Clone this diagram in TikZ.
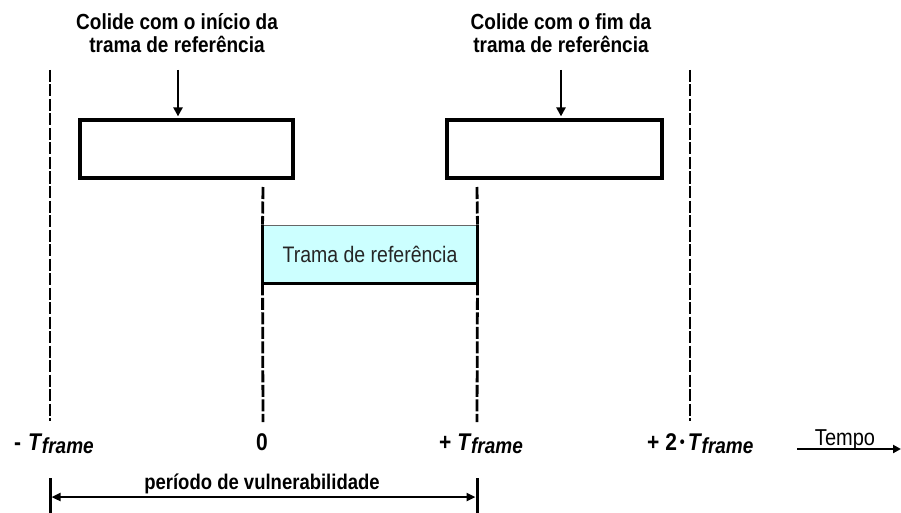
\documentclass[tikz,border=0pt]{standalone}
\usepackage{fontspec}
\usepackage{graphicx}
\setmainfont{Liberation Sans}
\usetikzlibrary{arrows.meta}
\newcommand{\tall}[1]{\scalebox{1}[1.15]{#1}}
\newcommand{\Tfr}{\textit{T}\kern1pt\raisebox{-0.3ex}{\fontsize{19}{20}\selectfont\itshape\kern-1.5pt frame}}
\definecolor{refcyan}{HTML}{CCFFFF}
\tikzset{
  dline/.style={line width=2.8pt, dash pattern=on 12pt off 2.5pt},
  framebox/.style={draw, line width=3.2pt, minimum width=213pt, minimum height=58pt, inner sep=0pt},
  reffr/.style={draw=black!60, line width=0.9pt, fill=refcyan, minimum width=214pt, minimum height=58pt, inner sep=0pt, font=\fontsize{19.5}{22}\selectfont},
  lbl/.style={font=\bfseries\fontsize{21}{24}\selectfont, inner sep=0pt},
  vlbl/.style={font=\bfseries\fontsize{18.5}{22}\selectfont, inner sep=0pt},
  toplbl/.style={font=\bfseries\fontsize{19}{22}\selectfont, align=center, inner sep=0pt},
  arr/.style={line width=2.6pt, -{Triangle[length=9pt,width=9pt]}},
  thick2/.style={line width=3pt},
}
\begin{document}
\begin{tikzpicture}[x=1pt,y=-1pt]
\useasboundingbox (0,0) rectangle (901,513);
% boxes
\node[framebox] (b1) at (186.5,149) {};
\node[framebox, minimum width=215pt] (b2) at (554.5,149) {};
\node[reffr] (ref) at (370,254) {\textcolor{black!85}{\tall{Trama de referência}}};
\draw[thick2] (ref.north west) -- (ref.south west) -- (ref.south east) -- (ref.north east);
% dashed lines
\coordinate (l1t) at (50,70);  \coordinate (l1b) at (50,421);
\coordinate (l2t) at (690,70); \coordinate (l2b) at (690,421);
\coordinate (m1t) at (263,187); \coordinate (m1b) at (263,422);
\coordinate (m2t) at (477,187); \coordinate (m2b) at (477,422);
\draw[dline] (l1t) -- (l1b);
\draw[dline] (l2t) -- (l2b);
\draw[dline] (m1t) -- (ref.north west);
\draw[dline] (ref.south west) -- (m1b);
\draw[dline] (m2t) -- (ref.north east);
\draw[dline] (ref.south east) -- (m2b);
% top labels and arrows
\node[toplbl, anchor=base] (t1) at (177,30) {\tall{Colide com o início da}};
\node[toplbl, anchor=base] (t1b) at (177,53) {\tall{trama de referência}};
\node[toplbl, anchor=base] (t2) at (561,30) {\tall{Colide com o fim da}};
\node[toplbl, anchor=base] (t2b) at (561,53) {\tall{trama de referência}};
\coordinate (a1s) at (178,70); \coordinate (a2s) at (561,70);
\draw[arr] (a1s) -- ([yshift=2pt]b1.north -| a1s);
\draw[arr] (a2s) -- ([yshift=2pt]b2.north -| a2s);
% axis labels
\node[lbl, anchor=base west] (n1) at (14,450) {\tall{-\kern7pt\Tfr}};
\node[lbl, anchor=base] (n0) at (262,450) {\tall{0}};
\node[lbl, anchor=base west] (n2) at (439,450) {\tall{+ \Tfr}};
\node[lbl, anchor=base west] (n3) at (647,450) {\tall{+ 2\kern3pt\raisebox{0.2ex}{\fontsize{14}{14}\selectfont\textbullet}\kern3pt\Tfr}};
\node[font=\fontsize{20}{22}\selectfont, inner sep=0pt, anchor=base] (tempo) at (845,445) {\tall{Tempo}};
\coordinate (ta) at (797,449); \coordinate (tb) at (901,449);
\draw[line width=2.4pt, -{Triangle[length=8pt,width=8pt]}] (ta) -- (tb);
% vulnerability
\node[vlbl, anchor=base] (vul) at (262,489) {\tall{período de vulnerabilidade}};
\coordinate (v1t) at (50,478); \coordinate (v1b) at (50,513);
\coordinate (v2t) at (477,478); \coordinate (v2b) at (477,513);
\draw[thick2] (v1t) -- (v1b);
\draw[thick2] (v2t) -- (v2b);
\draw[line width=2.4pt, {Triangle[length=9pt,width=8pt]}-{Triangle[length=9pt,width=8pt]}] ([xshift=1.5pt]v1t |- 0,497) -- ([xshift=-1.5pt]v2t |- 0,497);
\end{tikzpicture}
\end{document}
